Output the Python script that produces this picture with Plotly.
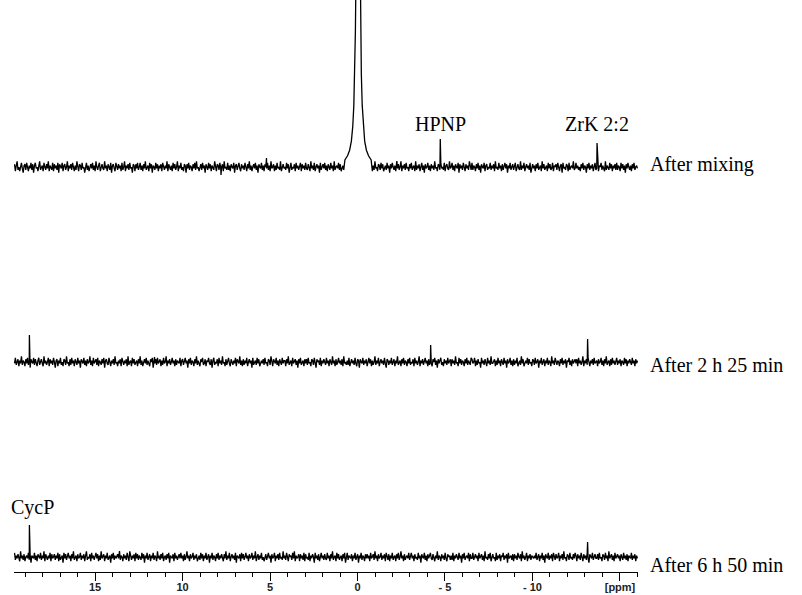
import numpy as np
import plotly.graph_objects as go

# ---- spectral data (ppm axis runs right-to-left), intensities in arbitrary units ----
ppm_start, ppm_end = 19.6, -16.0

top_noise = [
    2, -3, 1, 4, -2, 0, -3, 2, 3, -1, -4, 1, 2, -2, 3, 0, -3, 1, -1, 3, -2, 2, -4, 1,
    3, -1, 0, -3, 2, 4, -2, -1, 1, -3, 3, 0, -2, 2, -1, 4, -3, 1, 0, -2, 3, -3, 2, -1,
    1, -2, 3, -4, 2, 0, -1, 3, -3, 1, 2, -2, 0, 4, -3, 1, -1, 2, -2, 3, 0, -3, 1, -2,
    4, -1, -3, 2, 1, -2, 3, -1, 0, -4, 2, 3, -2, 1, -3, 0, 2, -1, 3, -2, 1, -3, 4, 0,
    -2, 1, 3, -3, 0, 2, -1, -2, 4, -1, 1, -3, 2, 0, -2, 3, -4, 1, 2, -1, -3, 3, 0, -2,
    2, -1, 1, -3, 3, -2, 0, 4, -3, 1, -1, 2, -2, 3, -1, 0, -4, 2, 1, -3, 2, -1, 3, -2,
    0, 3, -2, 1, -3, 2, -1, 4, -2, 0, 1, -3, 3, -1, 2, -4, 1, 0, -2, 3, -1, 2, -3, 1,
    -1, 2, -3, 3, 0, -2, 1, -1, 4, -3, 2, 0, -2, 1, -3, 3, -1, 2, -2, 0, 4, -3, 1, -1,
    3, -2, 0, -3, 2, 1, -4, 2, -1, 3, -2, 1, 0, -3, 2, -1, 3, -2, 4, -1, 0, -3, 1, 2,
    -2, 3, -1, 1, -4, 2, 0, -2, 3, -1, 2, -3, 1, 0, -2, 4, -1, -3, 2, 1, -2, 3, -1, 0,
    2, -3, 4, -1, 0, -2, 3, -2, 1, -3, 2, 0, -1, 3, -4, 1, 2, -2, 0, 3, -1, -3, 2, -1,
    1, -2, 3, 0, -3, 2, -1, 4, -2, 1, -3, 0, 2, -1, 3, -2, 1, -4, 2, 0, -1, 3, -2, 1,
    -3, 2, 0, -1, 3, -2, 1, -3, 4, -1, 0, 2, -3, 1, -2, 3, -1, 0, -2, 4, -3, 1, 2, -1,
    0, -2, 3, -1, 2, -4, 1, 3, -2, 0, -1, 2, -3, 3, -1, 1, -2, 0, 3, -3, 2, -1, 1, -2,
    3, -1, -2, 2, 0, -3, 4, -1, 1, -2, 3, -3, 0, 2, -1, 1, -4, 3, -2, 0, 2, -1, 3, -2,
    1, -3, 2, 0, -2, 3, -1, 1, -3, 4, -2, 0, 1, -1, 3, -2, 2, -3, 0, 1, -2, 3, -1, -4,
    2, 0, -1, 3, -2, 1, -3, 2, -1, 4, -2, 0, 3, -3, 1, -1, 2, -2, 0, 3, -4, 1, -1, 2,
    -2, 3, -1, 0, 2, -3, 1, -2, 4, -1, 0, -3, 2, 1, -2, 3, -1, 2, -3, 0, 1, -2, 3, -1,
    1, -4, 2, -1, 3, 0, -2, 1, -3, 3, -1, 2, -2, 0, 4, -3, 1, -1, 2, -2, 3, -1, 0, -3,
    2, -1, 3, -2, 0, 1, -3, 4, -2, 1, -1, 2, -3, 0, 3, -2, 1, -4, 2, -1, 0, 3, -2, 1,
    -3, 2, -1, 1, -2, 4, -1, 0, -3, 2, 1, -2, 3, -1, 0, -2, 3, -3, 1, 2, -1, -2, 4, -1,
    0, 3, -2, 1, -3, 2, 0, -1, 3, -4, 2, -1, 1, -2, 3, 0, -3, 2, -1, 1, -2, 4, -1, -2,
    3, -2, 1, 0, -3, 2, -1, 3, -2, 1, -4, 2, 0, -1, 3, -3, 1, 2, -2, 0, -1, 3, -2, 1,
    -1, 2, -3, 4, -1, 0, -2, 3, -1, 1, -3, 2, -2, 0, 3, -1, 2, -4, 1, -1, 3, -2, 0, 2,
    -2, 1, 3, -3, 0, 2, -1, -2, 4, -2, 1, -1, 3, -3, 0, 2, -1, 1, -2, 3, -4, 1, 2, -1,
    1, -3, 2, -1, 3, -2, 0, 1, -3, 4, -1, 2, -2, 0, 1, -3, 3, -1, 2, -2, -1, 3, -3, 1,
    0, 2, -2, 3, -1, -3, 1, 2, -4, 3, -1, 0, -2, 2, 1, -3, 3, -2, 0, 1, -1, 4, -2, -1,
    3, -1, 1, -2, 0, -3, 2, -1, 3, -2, 1, 0, -4, 2, -1, 3, -2, 1, -1, 2, -3, 0, 3, -2,
    -1, 2, -3, 1, 0, 3, -2, 1, -1, -3, 4, -2, 1, 0, -2, 3, -1, 2, -3, 1, -1, 2, -2, 3,
    -2, 1, 0, -3, 3, -1, 2, -2, 1, -4, 2, -1, 3, 0, -2, 1, -3, 2, -1, 3, -2, 0, 1, -1,
]

mid_noise = [
    -1, 3, -2, 0, 2, -3, 1, -1, 4, -2, 1, 0, -3, 2, -1, 3, -2, 1, -4, 2, 0, -1, 3, -2,
    2, -1, -3, 1, 3, -2, 0, 2, -1, -3, 4, -1, 1, -2, 0, 3, -3, 2, -1, 1, -2, 3, 0, -4,
    1, 2, -3, 1, -1, 3, -2, 0, -3, 2, 1, -2, 4, -1, 0, -3, 2, -2, 3, -1, 1, -3, 2, 0,
    -2, 3, -1, 1, -4, 2, 0, -1, 3, -2, 1, -3, 2, -1, 0, 4, -2, 1, -3, 3, -1, 0, 2, -2,
    3, -3, 1, 0, -2, 2, -1, 3, -4, 1, 2, -1, -2, 3, 0, -3, 1, -1, 2, -2, 4, -1, 0, -3,
    1, -1, 2, -3, 3, 0, -2, 1, -1, 2, -3, 4, -2, 0, 1, -3, 3, -1, 2, -2, 0, 1, -3, 2,
    -1, 4, -2, 1, -3, 0, 2, -1, 3, -2, 1, -1, -3, 2, 0, 3, -4, 1, -1, 2, -2, 3, -1, 0,
    2, -3, 1, -2, 3, -1, 0, 4, -3, 1, -1, 2, -2, 0, 3, -1, 1, -3, 2, -2, 1, 0, -1, 3,
    -3, 1, 2, -2, 0, 3, -1, 1, -4, 2, -1, 3, -2, 1, 0, -3, 2, -1, 4, -2, 1, -1, -3, 2,
    0, 3, -2, -1, 2, -3, 1, 0, 3, -1, -2, 2, -4, 1, 3, -2, 0, -1, 2, -3, 3, -1, 1, -2,
    4, -1, 0, -3, 2, -2, 1, 3, -1, -3, 2, 0, -2, 1, -1, 3, -3, 2, 0, -1, 4, -2, 1, -3,
    2, -2, 1, -1, 3, -3, 0, 2, -1, 1, -4, 3, -2, 0, 1, -2, 3, -1, 2, -3, 0, 1, -1, 2,
    -2, 3, -1, 0, -3, 2, 1, -2, 4, -1, -3, 2, 0, -1, 3, -2, 1, -3, 2, 0, -2, 3, -1, 1,
    1, -3, 2, -1, 4, -2, 0, 1, -3, 3, -1, 0, 2, -2, 1, -4, 2, -1, 3, -2, 0, 1, -3, 2,
    -1, 2, -2, 3, -1, 0, -3, 2, 1, -2, 3, -1, -4, 2, 0, 1, -2, 3, -3, 1, -1, 2, 0, -2,
    3, -1, 1, -3, 2, 0, -2, 4, -1, 1, -3, 2, -2, 0, 3, -1, 1, -2, 2, -3, 4, -1, 0, -2,
    1, -2, 3, -3, 0, 2, -1, 1, -2, 3, -1, -3, 2, 1, -4, 2, 0, -1, 3, -2, 1, -1, 2, -3,
    0, 3, -1, 2, -3, 1, -2, 0, 4, -2, 1, -1, 3, -3, 0, 2, -1, 1, -2, 3, -1, -4, 2, 1,
    -2, 1, -1, 3, -2, 0, 2, -3, 1, -1, 4, -2, 0, 1, -3, 2, -1, 3, -2, 1, 0, -3, 2, -1,
    3, -2, 0, -1, 2, -3, 3, -1, 1, -2, 0, 4, -3, 1, -1, 2, -2, 0, 3, -1, 1, -3, 2, -2,
    1, -1, -3, 2, 0, 3, -2, 1, -4, 2, -1, 1, 3, -2, 0, -3, 2, -1, 1, -2, 3, -1, 0, 2,
    -3, 2, -1, 1, -2, 4, -1, 0, -3, 3, -1, 2, -2, 1, 0, -3, 2, -1, 3, -2, 1, -1, -2, 3,
    2, -1, 0, 3, -3, 1, -2, 2, -1, 0, -4, 3, -1, 1, -2, 2, 0, -3, 3, -1, 1, -2, 4, -1,
    -1, 0, 2, -3, 1, -2, 3, -1, 1, -3, 2, 0, -2, 3, -1, 1, -4, 2, -1, 0, 3, -2, 1, -3,
    2, -2, 1, -1, 3, -3, 0, 1, -2, 4, -1, 2, -3, 0, 1, -1, 3, -2, 2, -1, 0, -3, 2, 1,
    -2, 3, -1, 0, 2, -4, 1, -1, 3, -2, 0, 2, -3, 1, -1, 3, -2, 1, 0, -3, 4, -1, 1, -2,
    3, -1, -2, 1, 0, -3, 2, -1, 3, -2, 1, -1, 2, -4, 1, 0, 3, -2, 1, -3, 2, -1, 0, 2,
    -1, 2, -3, 3, -1, 1, -2, 0, 4, -3, 1, -1, 2, -2, 3, 0, -3, 1, -1, 2, -2, 3, -1, 0,
    1, -3, 2, -1, 0, 3, -2, 1, -3, 2, -1, 4, -2, 0, 1, -3, 2, -2, 3, -1, 1, -2, 0, 3,
    -2, 1, -1, 2, -3, 1, 0, -2, 3, -1, 2, -3, 1, -1, 2, 0, -2, 3, -1, 1, -3, 2, -1, 1,
]

bot_noise = [
    3, -2, 1, -1, 2, 0, -3, 4, -1, 1, -2, 2, -3, 0, 1, -1, 3, -2, 2, -4, 1, 0, -1, 3,
    -2, 1, -3, 2, 0, -1, 3, -2, 1, -1, 4, -3, 2, 0, -2, 1, -1, 3, -3, 2, -1, 0, 2, -2,
    1, -1, 3, -3, 2, -2, 0, 1, -4, 3, -1, 2, -2, 0, 3, -1, 1, -3, 2, -1, 4, -2, 0, 1,
    -3, 2, -1, 0, 3, -2, 1, -1, 2, -3, 1, 4, -2, 0, -1, 2, -3, 3, -1, 1, -2, 0, 3, -1,
    2, -3, 1, -2, 4, -1, 0, 2, -3, 1, -1, 3, -2, 0, 1, -4, 2, -1, 3, -2, 1, -1, 0, 2,
    -1, 3, -2, 1, 0, -3, 2, -1, 1, -2, 3, -1, -3, 4, 0, -2, 1, -1, 2, -3, 3, -1, 2, -2,
    1, 0, -2, 3, -1, 2, -4, 1, -1, 3, -2, 0, 2, -3, 1, -1, 3, -2, 1, 0, -3, 4, -1, 1,
    -2, 2, -1, 3, -3, 0, 1, -2, 2, -1, 3, -4, 1, 0, -1, 2, -3, 3, -1, 1, -2, 0, 2, -1,
    3, -1, 1, -3, 2, -2, 0, 4, -1, 1, -3, 2, -1, 0, 3, -2, 1, -1, 2, -3, 0, 1, -2, 3,
    -1, 2, -3, 1, -1, 3, -2, 0, 2, -4, 1, -1, 3, -2, 1, 0, -3, 2, -1, 3, -2, 1, -1, 2,
    0, -3, 2, -1, 4, -2, 1, -1, 3, -3, 0, 2, -1, 1, -2, 3, -4, 1, 0, -1, 2, -3, 3, -1,
    2, -2, 0, 3, -1, 1, -3, 2, -1, 0, 3, -2, 1, -1, 4, -3, 0, 2, -2, 1, -1, 3, -2, 0,
    -3, 1, 2, -2, 0, 3, -1, 1, -4, 2, -1, 0, 3, -3, 1, -1, 2, -2, 3, -1, 0, -2, 4, -1,
    1, -2, 3, -1, -3, 2, 0, 1, -2, 3, -1, 4, -3, 1, -1, 0, 2, -3, 2, -1, 1, -2, 3, -3,
    2, -1, 0, -2, 3, -3, 1, -1, 2, 0, -4, 3, -1, 1, -2, 2, -3, 0, 3, -1, 1, -2, 2, -1,
    -2, 3, -1, 1, -3, 2, -1, 4, -2, 0, 1, -3, 3, -1, 2, -2, 0, 1, -3, 2, -1, 3, -4, 1,
    3, -2, 1, 0, -1, 2, -3, 1, -1, 3, -2, 0, 2, -4, 1, -1, 3, -2, 1, 0, -3, 2, -1, 2,
    -1, 1, -3, 3, -1, 0, 2, -2, 4, -1, 1, -3, 2, -1, 0, 3, -2, 1, -1, 2, -3, 3, 0, -2,
    2, -3, 1, -1, 3, -2, 0, 1, -3, 2, -1, 3, -2, 0, 4, -1, 1, -3, 2, -2, 0, 1, -1, 3,
    -2, 0, 3, -1, 1, -3, 2, -1, 0, -2, 3, -1, 1, -4, 2, 0, -1, 3, -2, 1, -3, 2, -1, 1,
    3, -1, -2, 2, 0, -3, 1, -1, 4, -2, 1, 0, -3, 2, -1, 1, -2, 3, -1, -3, 2, 0, 1, -2,
    1, -2, 3, -3, 1, -1, 2, 0, -2, 3, -1, 1, -4, 2, -1, 3, -2, 0, 1, -1, 3, -3, 2, -1,
    -1, 3, -2, 0, 2, -1, 1, -3, 3, -1, 0, 2, -2, 1, -3, 4, -1, 0, -2, 2, -1, 3, -3, 1,
    2, -1, 0, -3, 3, -2, 1, -1, 2, -3, 1, 0, 3, -2, 1, -1, 2, -4, 3, -1, 0, 1, -2, 2,
    -3, 2, -1, 1, -2, 3, 0, -1, 2, -3, 4, -1, 1, -2, 0, 3, -3, 1, -1, 2, -2, 1, 0, -1,
    1, -1, 3, -2, 0, 2, -3, 1, -1, 3, -2, 1, -4, 2, 0, -1, 3, -2, 1, -1, 2, -3, 3, 0,
    -2, 2, -1, 0, 3, -3, 1, -1, 2, -2, 4, -1, 0, -3, 2, 1, -2, 3, -1, 0, -2, 2, -1, 3,
    1, -3, 2, -1, 1, -2, 3, 0, -3, 2, -1, 1, -2, 3, -1, -4, 2, 1, -1, 3, -2, 0, 2, -1,
    -1, 2, -2, 3, -1, 0, -3, 2, 1, -2, 3, -1, 1, -3, 4, -1, 0, 2, -2, 1, -3, 3, -1, 0,
    2, -1, 1, -3, 2, 0, -2, 3, -1, 1, -2, 2, -3, 1, 0, -1, 3, -2, 1, -1, 2, -3, 1, -1,
]

# sharp resonances (ppm, intensity) on each trace
top_peak_ppm = [7.8, 5.2, -2.25, -4.73, -13.69]
top_peak_int = [-5.7, 6.4, 4.3, 20, 17.1]
mid_peak_ppm = [18.75, 11.6, -4.18, -13.15]
mid_peak_int = [19.3, 3.6, 12.1, 16.4]
bot_peak_ppm = [18.75, 13.6, -13.15]
bot_peak_int = [22.9, 4.3, 10.7]

# broad, intense signal near 0 ppm in the first spectrum
main_peak_ppm = [0.72, 0.57, 0.45, 0.35, 0.27, 0.21, 0.16, 0.12, 0.09, 0.06, 0.03, 0.0, -0.03,
                 -0.06, -0.09, -0.12, -0.15, -0.18, -0.22, -0.27, -0.33, -0.41, -0.51, -0.63, -0.78]
main_peak_int = [5, 8, 12, 18.5, 29, 44, 66, 97, 134, 191, 274, 371, 421,
                 371, 274, 191, 134, 97, 66, 44, 29, 18.5, 12, 8, 5]

trace_labels = ["After mixing", "After 2 h 25 min", "After 6 h 50 min"]
tick_vals = [15, 10, 5, 0, -5, -10, -15]
tick_text = ["15", "10", "5", "0", "- 5", "- 10", "[ppm]"]

# vertical stacking of the three spectra
offsets = [289.3, 150, 10.7]
label_shift = [3, -3, -8]
Y_MAX = 408.6


def build(noise, peak_ppm, peak_int, broad_ppm=None, broad_int=None):
    x = np.linspace(ppm_start, ppm_end, len(noise))
    y = np.array(noise, dtype=float)
    if broad_ppm is not None:
        keep = (x > max(broad_ppm)) | (x < min(broad_ppm))
        x, y = x[keep], y[keep]
        x = np.concatenate([x, broad_ppm])
        y = np.concatenate([y, broad_int])
    x = np.concatenate([x, peak_ppm])
    y = np.concatenate([y, peak_int])
    order = np.argsort(-x)
    return x[order], y[order]


spectra = [
    build(top_noise, top_peak_ppm, top_peak_int, main_peak_ppm, main_peak_int),
    build(mid_noise, mid_peak_ppm, mid_peak_int),
    build(bot_noise, bot_peak_ppm, bot_peak_int),
]

fig = go.Figure()
for (x, y), off in zip(spectra, offsets):
    fig.add_trace(go.Scatter(
        x=x, y=y + off, mode="lines",
        line=dict(color="black", width=1.3),
        hoverinfo="skip", showlegend=False,
    ))

serif = dict(family="Liberation Serif, Times New Roman, serif", size=20, color="black")

# spectrum captions on the right
for lab, off, sh in zip(trace_labels, offsets, label_shift):
    fig.add_annotation(x=1.0, xref="paper", y=off, yref="y", text=lab,
                       xanchor="left", yanchor="middle", xshift=10, yshift=sh,
                       showarrow=False, font=serif)

# peak assignments
fig.add_annotation(x=top_peak_ppm[3], y=offsets[0] + top_peak_int[3], text="HPNP",
                   yanchor="bottom", yshift=2, showarrow=False, font=serif)
fig.add_annotation(x=top_peak_ppm[4], y=offsets[0] + top_peak_int[4], text="ZrK 2:2",
                   yanchor="bottom", yshift=6, showarrow=False, font=serif)
fig.add_annotation(x=bot_peak_ppm[0], y=offsets[2] + bot_peak_int[0], text="CycP",
                   yanchor="bottom", yshift=4, xshift=3, showarrow=False, font=serif)

fig.update_xaxes(
    range=[19.63, -16.03],
    showgrid=False, zeroline=False,
    showline=True, linecolor="black", linewidth=1,
    ticks="outside", ticklen=8, tickwidth=1, tickcolor="black",
    tickmode="array", tickvals=tick_vals, ticktext=tick_text,
    ticklabelstandoff=-3,
    tickfont=dict(family="Liberation Sans, Arial, sans-serif", size=11,
                  color="#222222", weight="bold"),
    minor=dict(tickmode="linear", tick0=0, dtick=1, ticks="outside",
               ticklen=4, tickwidth=1, tickcolor="black"),
)
fig.update_yaxes(range=[0, Y_MAX], visible=False, showgrid=False, zeroline=False)

fig.update_layout(
    width=802, height=595,
    margin=dict(l=14, r=164, t=0, b=23),
    paper_bgcolor="white", plot_bgcolor="white",
    showlegend=False,
)

fig.write_html("out.html")
